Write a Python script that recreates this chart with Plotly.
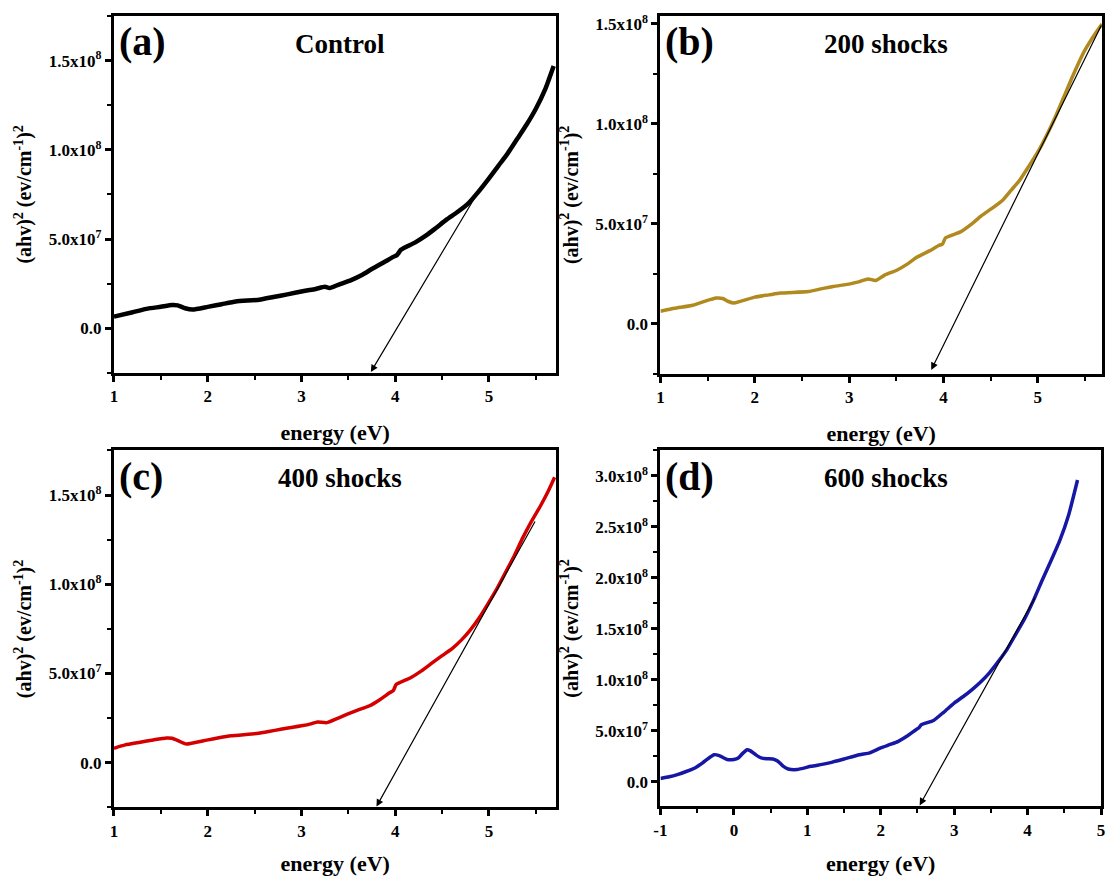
import plotly.graph_objects as go

# ---------------- data ----------------
energy_a = [1.0, 1.2, 1.36, 1.5, 1.62, 1.68, 1.76, 1.84, 2.0, 2.15, 2.3, 2.55, 2.7, 2.85, 3.04, 3.15, 3.25, 3.3, 3.4, 3.53, 3.65, 3.76, 3.88, 3.98, 4.02, 4.06, 4.21, 4.33, 4.43, 4.55, 4.66, 4.78, 4.88, 5.0, 5.1, 5.2, 5.3, 5.4, 5.5, 5.6, 5.69]
value_a = [6.5e6, 9.0e6, 1.1e7, 1.2e7, 1.3e7, 1.28e7, 1.12e7, 1.05e7, 1.2e7, 1.35e7, 1.5e7, 1.6e7, 1.75e7, 1.9e7, 2.1e7, 2.2e7, 2.32e7, 2.25e7, 2.45e7, 2.7e7, 3.0e7, 3.35e7, 3.7e7, 4.0e7, 4.1e7, 4.4e7, 4.8e7, 5.2e7, 5.6e7, 6.1e7, 6.5e7, 7.0e7, 7.6e7, 8.4e7, 9.1e7, 9.8e7, 1.06e8, 1.14e8, 1.23e8, 1.34e8, 1.47e8]

energy_b = [1.0, 1.15, 1.33, 1.45, 1.59, 1.66, 1.72, 1.78, 2.0, 2.15, 2.27, 2.57, 2.7, 2.83, 3.01, 3.1, 3.2, 3.28, 3.38, 3.5, 3.62, 3.72, 3.85, 3.95, 3.99, 4.02, 4.18, 4.3, 4.4, 4.52, 4.63, 4.72, 4.81, 4.9, 5.0, 5.1, 5.19, 5.28, 5.37, 5.5, 5.62, 5.68]
value_b = [6.3e6, 7.8e6, 9.2e6, 1.1e7, 1.29e7, 1.27e7, 1.12e7, 1.05e7, 1.34e7, 1.45e7, 1.54e7, 1.62e7, 1.75e7, 1.87e7, 2.0e7, 2.1e7, 2.25e7, 2.17e7, 2.45e7, 2.67e7, 3.0e7, 3.34e7, 3.65e7, 3.92e7, 4.0e7, 4.3e7, 4.6e7, 5.0e7, 5.4e7, 5.8e7, 6.2e7, 6.7e7, 7.2e7, 7.85e7, 8.6e7, 9.5e7, 1.04e8, 1.14e8, 1.24e8, 1.37e8, 1.46e8, 1.5e8]

energy_c = [1.0, 1.12, 1.28, 1.42, 1.56, 1.62, 1.7, 1.77, 1.99, 2.12, 2.25, 2.52, 2.65, 2.78, 3.0, 3.1, 3.17, 3.27, 3.38, 3.49, 3.6, 3.72, 3.84, 3.94, 3.98, 4.01, 4.16, 4.28, 4.39, 4.5, 4.61, 4.71, 4.8, 4.9, 5.0, 5.09, 5.18, 5.27, 5.36, 5.45, 5.55, 5.63, 5.7]
value_c = [8.1e6, 1.0e7, 1.15e7, 1.28e7, 1.39e7, 1.37e7, 1.2e7, 1.05e7, 1.27e7, 1.4e7, 1.51e7, 1.64e7, 1.75e7, 1.88e7, 2.07e7, 2.18e7, 2.29e7, 2.25e7, 2.48e7, 2.72e7, 2.95e7, 3.18e7, 3.55e7, 3.92e7, 4.05e7, 4.38e7, 4.75e7, 5.15e7, 5.58e7, 6.0e7, 6.41e7, 6.9e7, 7.43e7, 8.15e7, 9.0e7, 9.8e7, 1.07e8, 1.16e8, 1.26e8, 1.35e8, 1.44e8, 1.52e8, 1.6e8]

energy_d = [-1.0, -0.88, -0.77, -0.65, -0.53, -0.43, -0.34, -0.27, -0.2, -0.09, 0.0, 0.06, 0.12, 0.18, 0.22, 0.3, 0.37, 0.45, 0.53, 0.6, 0.67, 0.74, 0.86, 1.05, 1.2, 1.33, 1.5, 1.71, 1.85, 2.0, 2.12, 2.24, 2.36, 2.48, 2.52, 2.55, 2.72, 2.86, 3.0, 3.12, 3.24, 3.36, 3.48, 3.6, 3.72, 3.84, 3.96, 4.08, 4.2, 4.32, 4.44, 4.56, 4.68]
value_d = [3.3e6, 5.0e6, 7.2e6, 1.02e7, 1.37e7, 1.85e7, 2.35e7, 2.67e7, 2.58e7, 2.19e7, 2.2e7, 2.35e7, 2.8e7, 3.16e7, 3.07e7, 2.65e7, 2.35e7, 2.27e7, 2.25e7, 2.02e7, 1.55e7, 1.27e7, 1.21e7, 1.53e7, 1.72e7, 1.92e7, 2.25e7, 2.67e7, 2.84e7, 3.33e7, 3.65e7, 3.98e7, 4.5e7, 5.12e7, 5.3e7, 5.6e7, 6.03e7, 6.85e7, 7.73e7, 8.35e7, 9.03e7, 9.8e7, 1.07e8, 1.18e8, 1.3e8, 1.45e8, 1.6e8, 1.78e8, 1.98e8, 2.17e8, 2.37e8, 2.62e8, 2.96e8]

# tangent lines: (tail x, tail y, head x, head y)
tangent_a = [4.91, 7.86e7, 3.74, -2.45e7]
tangent_b = [5.68, 1.5e8, 3.87, -2.3e7]
tangent_c = [5.5, 1.36e8, 3.8, -2.45e7]
tangent_d = [4.11, 1.82e8, 2.53, -2.3e7]

panel_letters = ["(a)", "(b)", "(c)", "(d)"]
panel_titles = ["Control", "200 shocks", "400 shocks", "600 shocks"]

ytick_vals_abc = [0, 5e7, 1e8, 1.5e8]
ytick_text_abc = ["0.0", "5.0x10<sup>7</sup>", "1.0x10<sup>8</sup>", "1.5x10<sup>8</sup>"]
ytick_vals_d = [0, 5e7, 1e8, 1.5e8, 2e8, 2.5e8, 3e8]
ytick_text_d = ["0.0", "5.0x10<sup>7</sup>", "1.0x10<sup>8</sup>", "1.5x10<sup>8</sup>",
                "2.0x10<sup>8</sup>", "2.5x10<sup>8</sup>", "3.0x10<sup>8</sup>"]
xtick_vals_abc = [1, 2, 3, 4, 5]
xtick_vals_d = [-1, 0, 1, 2, 3, 4, 5]

# ---------------- figure ----------------
W, H = 1108, 876
FONT = "Times New Roman, Liberation Serif, Tinos, DejaVu Serif, serif"

def px_x(p):
    return p / W

def px_y(p):
    return 1 - p / H

panels = [
    dict(e=energy_a, v=value_a, col="#000000", lw=4.5, tan=tangent_a,
         dx=[108, 555], dy=[12, 371], xr=[1, 5.72], yr=[-2.5e7, 1.75e8],
         tv=ytick_vals_abc, tt=ytick_text_abc, xt=xtick_vals_abc),
    dict(e=energy_b, v=value_b, col="#B08A1E", lw=3.5, tan=tangent_b,
         dx=[660, 1106], dy=[12, 372], xr=[1, 5.68], yr=[-2.5e7, 1.54e8],
         tv=ytick_vals_abc, tt=ytick_text_abc, xt=xtick_vals_abc),
    dict(e=energy_c, v=value_c, col="#D40000", lw=3.5, tan=tangent_c,
         dx=[108, 555], dy=[449, 808], xr=[1, 5.72], yr=[-2.5e7, 1.75e8],
         tv=ytick_vals_abc, tt=ytick_text_abc, xt=xtick_vals_abc),
    dict(e=energy_d, v=value_d, col="#1717A6", lw=3.5, tan=tangent_d,
         dx=[660, 1105], dy=[449, 807], xr=[-1, 5], yr=[-2.4e7, 3.25e8],
         tv=ytick_vals_d, tt=ytick_text_d, xt=xtick_vals_d),
]

fig = go.Figure()
annotations = []
layout = {}

for i, p in enumerate(panels):
    n = "" if i == 0 else str(i + 1)
    xa, ya = "x" + n, "y" + n
    fig.add_trace(go.Scatter(x=p["e"], y=p["v"], mode="lines",
                             line=dict(color=p["col"], width=p["lw"], shape="spline", smoothing=0.5),
                             xaxis=xa, yaxis=ya, showlegend=False, hoverinfo="skip"))
    axis_common = dict(showline=True, linecolor="black", linewidth=3, mirror=True,
                       ticks="outside", ticklen=6, tickwidth=2.5, tickcolor="black",
                       showgrid=False, zeroline=False, ticklabeloverflow="allow",
                       tickfont=dict(family=FONT, size=17, color="black", weight="bold"))
    layout["xaxis" + n] = dict(
        axis_common, domain=[px_x(p["dx"][0]), px_x(p["dx"][1])], range=p["xr"],
        anchor=ya, tickvals=p["xt"], ticktext=[str(t) for t in p["xt"]],
        minor=dict(ticks="outside", ticklen=4, tickwidth=2, tickcolor="black", dtick=0.5),
        title=dict(text="energy (eV)", standoff=20,
                   font=dict(family=FONT, size=22, color="black", weight="bold")))
    layout["yaxis" + n] = dict(
        axis_common, domain=[px_y(p["dy"][1]), px_y(p["dy"][0])], range=p["yr"],
        anchor=xa, tickvals=p["tv"], ticktext=p["tt"],
        minor=dict(ticks="outside", ticklen=4, tickwidth=2, tickcolor="black", dtick=2.5e7, tick0=0),
        title=dict(text="(ahv)<sup>2</sup> (ev/cm<sup>-1</sup>)<sup>2</sup>", standoff=12,
                   font=dict(family=FONT, size=20, color="black", weight="bold")))
    t = p["tan"]
    annotations.append(dict(x=t[2], y=t[3], ax=t[0], ay=t[1], xref=xa, yref=ya,
                            axref=xa, ayref=ya, text="", showarrow=True,
                            arrowhead=2, arrowsize=1.2, arrowwidth=1.2, arrowcolor="black"))
    annotations.append(dict(x=px_x(p["dx"][0] + 3), y=px_y(p["dy"][0] + 26), xref="paper", yref="paper",
                            text=panel_letters[i], showarrow=False, xanchor="left", yanchor="middle",
                            font=dict(family=FONT, size=40, color="black", weight="bold")))
    annotations.append(dict(x=px_x(p["dx"][0] + 228), y=px_y(p["dy"][0] + 28), xref="paper", yref="paper",
                            text=panel_titles[i], showarrow=False, xanchor="center", yanchor="middle",
                            font=dict(family=FONT, size=27, color="black", weight="bold")))

fig.update_layout(**layout)
fig.update_layout(width=W, height=H, margin=dict(l=0, r=0, t=0, b=0),
                  paper_bgcolor="white", plot_bgcolor="white",
                  font=dict(family=FONT),
                  annotations=annotations)

fig.write_html("out.html")
